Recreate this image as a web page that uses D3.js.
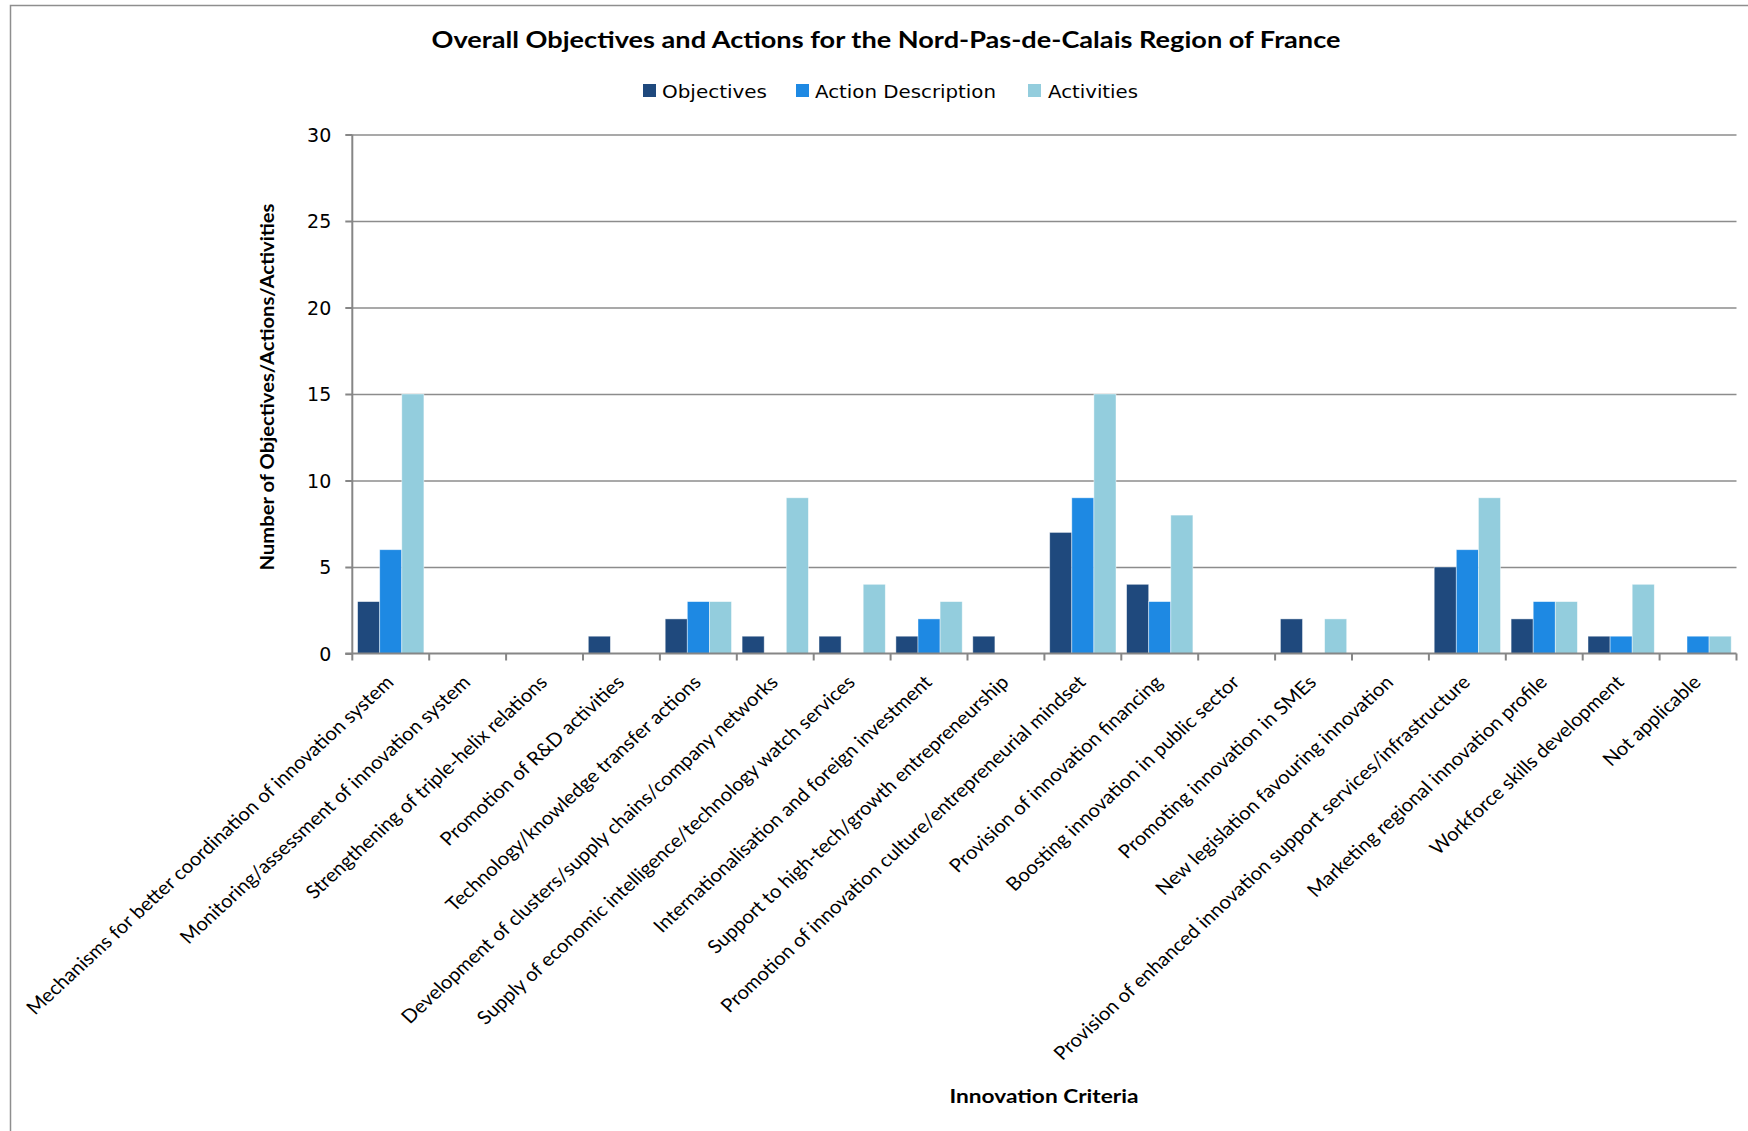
<!DOCTYPE html>
<html>
<head>
<meta charset="utf-8">
<script src="https://cdn.jsdelivr.net/npm/d3@7"></script>
<style>
  html, body { margin: 0; padding: 0; background: #fff; }
  svg { display: block; }
</style>
</head>
<body>
<svg id="chart" width="1748" height="1131"></svg>
<script>
// Innovation criteria (x categories)
const categories = [
  "Mechanisms for better coordination of innovation system",
  "Monitoring/assessment of innovation system",
  "Strengthening of triple-helix relations",
  "Promotion of R&D activities",
  "Technology/knowledge transfer actions",
  "Development of clusters/supply chains/company networks",
  "Supply of economic intelligence/technology watch services",
  "Internationalisation and foreign investment",
  "Support to high-tech/growth entrepreneurship",
  "Promotion of innovation culture/entrepreneurial  mindset",
  "Provision of innovation financing",
  "Boosting innovation in public sector",
  "Promoting innovation in SMEs",
  "New legislation favouring innovation",
  "Provision of enhanced innovation support services/infrastructure",
  "Marketing regional innovation profile",
  "Workforce skills development",
  "Not applicable"
];

const seriesNames = ["Objectives", "Action Description", "Activities"];

const objectives        = [3, 0, 0, 1, 2, 1, 1, 1, 1, 7, 4, 0, 2, 0, 5, 2, 1, 0];
const actionDescription = [6, 0, 0, 0, 3, 0, 0, 2, 0, 9, 3, 0, 0, 0, 6, 3, 1, 1];
const activities        = [15, 0, 0, 0, 3, 9, 4, 3, 0, 15, 8, 0, 2, 0, 9, 3, 4, 1];

const yTicks = [0, 5, 10, 15, 20, 25, 30];

const seriesValues = [objectives, actionDescription, activities];
const colors = ["#1f497d", "#1e89e3", "#93cddd"];

const svg = d3.select("#chart");

// outer chart frame
svg.append("rect")
  .attr("x", 10.5).attr("y", 5.5)
  .attr("width", 1800).attr("height", 1200)
  .attr("fill", "none").attr("stroke", "#8e8e8e").attr("stroke-width", 1.5);

const plot = { left: 352.3, right: 1736.5, top: 134.5, bottom: 653.5 };

const x = d3.scaleBand().domain(categories).range([plot.left, plot.right]).padding(0);
const xs = d3.scaleBand().domain(seriesNames)
  .range([5.3, x.bandwidth() - 5.3]).padding(0);
const y = d3.scaleLinear().domain([0, 30]).range([plot.bottom, plot.top]);

// gridlines
const grid = svg.append("g").attr("transform", `translate(${plot.left},0)`)
  .call(d3.axisLeft(y).tickValues(yTicks.filter(v => v > 0))
    .tickSize(-(plot.right - plot.left)).tickFormat(""));
grid.select(".domain").remove();
grid.selectAll("line").attr("stroke", "#8c8c8c").attr("stroke-width", 1.6);

// bars
const rows = categories.map((c, i) => ({ c, vals: seriesNames.map((s, k) => ({ s, k, v: seriesValues[k][i] })) }));
const groups = svg.append("g").selectAll("g").data(rows).join("g")
  .attr("transform", d => `translate(${x(d.c)},0)`);
groups.selectAll("rect").data(d => d.vals.filter(e => e.v > 0)).join("rect")
  .attr("x", d => xs(d.s))
  .attr("width", xs.bandwidth())
  .attr("y", d => y(d.v))
  .attr("height", d => y(0) - y(d.v))
  .attr("fill", d => colors[d.k])
  .attr("stroke", "rgba(255,255,255,0.55)")
  .attr("stroke-width", 0.8);

// y axis
const yAxis = svg.append("g").attr("transform", `translate(${plot.left},0)`)
  .call(d3.axisLeft(y).tickValues(yTicks).tickSize(7).tickPadding(14));
yAxis.select(".domain").attr("stroke", "#868686").attr("stroke-width", 2)
  .attr("d", `M0,${plot.top}V${plot.bottom}`);
yAxis.selectAll(".tick line").attr("stroke", "#868686").attr("stroke-width", 2);
yAxis.selectAll(".tick text")
  .attr("font-family", "'DejaVu Sans', Verdana, sans-serif")
  .attr("font-size", 19).attr("fill", "#000").attr("dy", "0.36em");

// x axis line
svg.append("line")
  .attr("x1", plot.left - 7).attr("x2", plot.right)
  .attr("y1", plot.bottom).attr("y2", plot.bottom)
  .attr("stroke", "#868686").attr("stroke-width", 2);

// category boundary ticks
const boundaries = categories.map(c => x(c)).concat([x(categories[categories.length - 1]) + x.bandwidth()]);
svg.append("g").selectAll("line").data(boundaries).join("line")
  .attr("x1", d => d).attr("x2", d => d)
  .attr("y1", plot.bottom).attr("y2", plot.bottom + 7)
  .attr("stroke", "#868686").attr("stroke-width", 2);

// category labels, rotated (slightly widened horizontally)
svg.append("g").selectAll("text").data(categories).join("text")
  .attr("transform", d => `translate(${x(d) + x.bandwidth() / 2 + 4},${plot.bottom + 30}) scale(1.083,1) rotate(-45)`)
  .attr("text-anchor", "end")
  .attr("font-family", "Lato, 'Open Sans', sans-serif")
  .attr("font-size", 18.8)
  .attr("fill", "#000")
  .text(d => d);

// title
svg.append("text")
  .attr("x", 886).attr("y", 48)
  .attr("text-anchor", "middle")
  .attr("font-family", "Lato, sans-serif").attr("font-weight", "bold")
  .attr("font-size", 23)
  .attr("textLength", 909).attr("lengthAdjust", "spacingAndGlyphs")
  .text("Overall Objectives and Actions for the Nord-Pas-de-Calais Region of France");

// legend
const legendItems = [
  { name: seriesNames[0], sx: 643, tx: 662, tw: 105 },
  { name: seriesNames[1], sx: 796, tx: 815, tw: 181 },
  { name: seriesNames[2], sx: 1028, tx: 1048, tw: 90 }
];
const leg = svg.append("g");
leg.selectAll("rect").data(legendItems).join("rect")
  .attr("x", d => d.sx).attr("y", 84).attr("width", 13).attr("height", 13)
  .attr("fill", (d, i) => colors[i]);
leg.selectAll("text").data(legendItems).join("text")
  .attr("x", d => d.tx).attr("y", 98)
  .attr("font-family", "'DejaVu Sans', Verdana, sans-serif")
  .attr("font-size", 18)
  .attr("textLength", d => d.tw).attr("lengthAdjust", "spacingAndGlyphs")
  .text(d => d.name);

// axis titles
svg.append("text")
  .attr("transform", `translate(274,387) rotate(-90)`)
  .attr("text-anchor", "middle")
  .attr("font-family", "Lato, sans-serif").attr("font-weight", "bold")
  .attr("font-size", 19)
  .attr("textLength", 367).attr("lengthAdjust", "spacingAndGlyphs")
  .text("Number of Objectives/Actions/Activities");

svg.append("text")
  .attr("x", 1044).attr("y", 1103)
  .attr("text-anchor", "middle")
  .attr("font-family", "Lato, sans-serif").attr("font-weight", "bold")
  .attr("font-size", 19)
  .attr("textLength", 189).attr("lengthAdjust", "spacingAndGlyphs")
  .text("Innovation Criteria");
</script>
</body>
</html>
